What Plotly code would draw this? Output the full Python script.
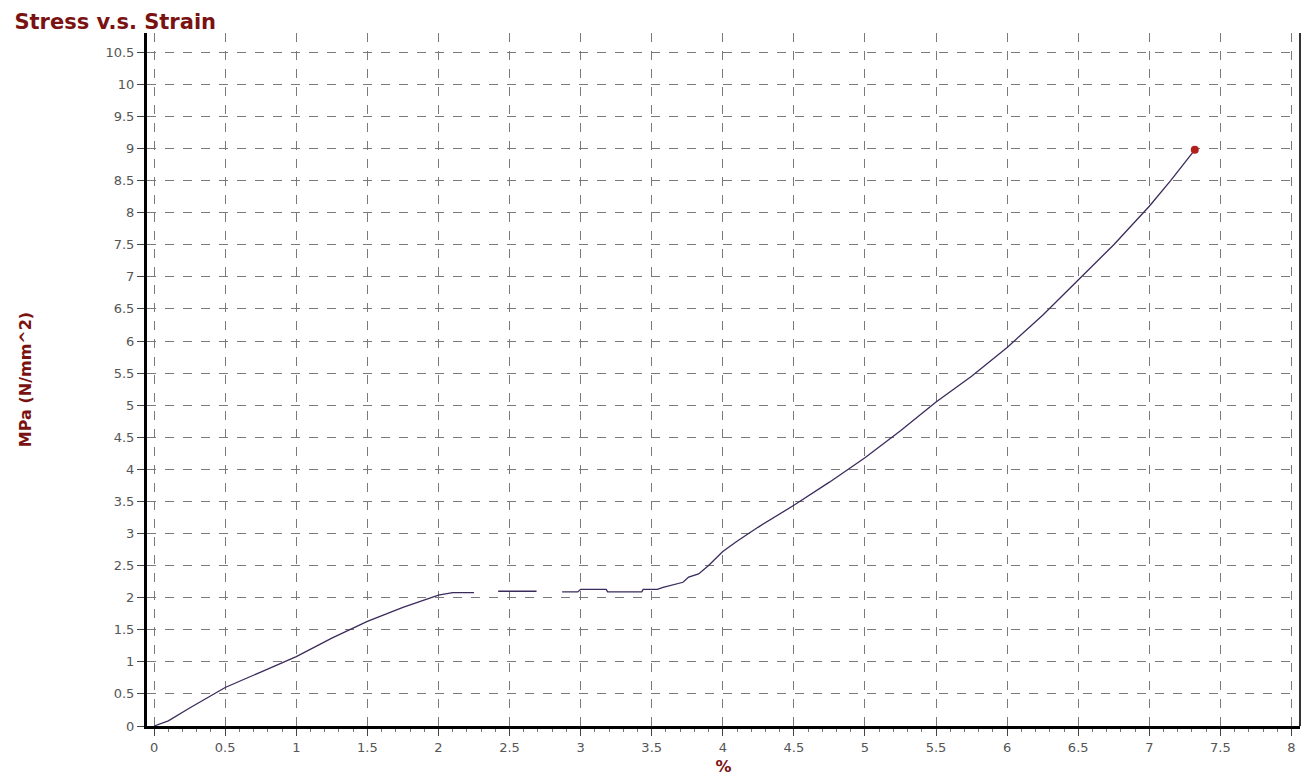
import plotly.graph_objects as go

strain = [0, 0.1, 0.25, 0.5, 0.75, 1.0, 1.25, 1.5, 1.75, 2.0, 2.1, 2.25, None,
          2.42, 2.69, None,
          2.87, 2.98, 3.0, 3.18, 3.19, 3.43, 3.44, 3.54, 3.58, 3.65, 3.72, 3.76, 3.83, 3.9,
          4.0, 4.1, 4.25, 4.5, 4.75, 5.0, 5.25, 5.5, 5.75, 6.0, 6.25, 6.5, 6.75, 7.0, 7.15, 7.32]
stress = [0, 0.08, 0.28, 0.6, 0.84, 1.08, 1.37, 1.63, 1.85, 2.04, 2.08, 2.08, None,
          2.10, 2.10, None,
          2.09, 2.09, 2.13, 2.13, 2.09, 2.09, 2.13, 2.13, 2.16, 2.2, 2.24, 2.32, 2.37, 2.5,
          2.72, 2.88, 3.1, 3.44, 3.8, 4.18, 4.6, 5.05, 5.45, 5.9, 6.4, 6.95, 7.5, 8.1, 8.5, 8.98]
end_x = [7.32]
end_y = [8.98]

tickvals = [i * 0.5 for i in range(0, 17)]
ytickvals = [i * 0.5 for i in range(0, 22)]

def fmt(v):
    return str(int(v)) if v == int(v) else str(v)

fig = go.Figure()
fig.add_trace(go.Scatter(x=strain, y=stress, mode="lines",
                         line=dict(color="#3b2a5c", width=1.3),
                         connectgaps=False, showlegend=False, hoverinfo="skip"))
fig.add_trace(go.Scatter(x=end_x, y=end_y, mode="markers",
                         marker=dict(color="#b3201c", size=8),
                         showlegend=False))

tickfont = dict(family="DejaVu Sans", size=13, color="#555555")
titlecolor = "#7a1212"

fig.update_layout(
    width=1309, height=782,
    paper_bgcolor="white", plot_bgcolor="white",
    margin=dict(l=147, r=9, t=33, b=56),
    title=dict(text="<b>Stress v.s. Strain</b>", x=0.011, xanchor="left", y=0.972, yanchor="middle",
               font=dict(family="DejaVu Sans", size=21, color=titlecolor)),
    xaxis=dict(range=[-0.05, 8.06], tickvals=tickvals, ticktext=[fmt(v) for v in tickvals],
               showgrid=True, gridcolor="#7a7a7a", griddash="dash", gridwidth=1,
               showline=True, linecolor="black", linewidth=3,
               ticks="outside", ticklen=7, tickcolor="#444444", tickfont=tickfont,
               minor=dict(dtick=0.1, tick0=0, ticks="outside", ticklen=3, tickcolor="#777777", showgrid=False),
               zeroline=False,
               title=dict(text="<b>%</b>", standoff=8,
                          font=dict(family="DejaVu Sans", size=16, color=titlecolor))),
    yaxis=dict(range=[0, 10.8], tickvals=ytickvals, ticktext=[fmt(v) for v in ytickvals],
               showgrid=True, gridcolor="#7a7a7a", griddash="dash", gridwidth=1,
               showline=True, linecolor="black", linewidth=3,
               ticks="outside", ticklen=7, tickcolor="#444444", tickfont=tickfont,
               zeroline=False,
               title=dict(text="<b>MPa (N/mm^2)</b>", standoff=70,
                          font=dict(family="DejaVu Sans", size=16, color=titlecolor))),
    shapes=[dict(type="line", xref="paper", yref="paper", x0=1, x1=1, y0=0, y1=1,
                 line=dict(color="#333333", width=2))],
)

fig.write_html("out.html")
